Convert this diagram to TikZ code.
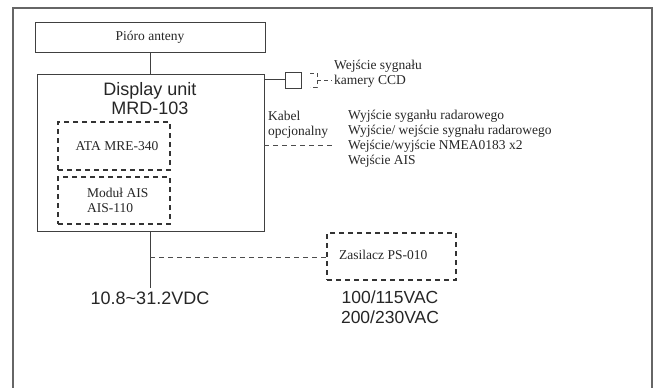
\documentclass[tikz,border=0pt]{standalone}
\usepackage{fontspec}
\setmainfont{Liberation Serif}
\newfontfamily\arialf{Liberation Sans}
\begin{document}
\begin{tikzpicture}[x=1pt,y=-1pt,
  line/.style={draw=black!75,line width=0.9pt},
  solidbox/.style={line,rectangle,inner sep=0pt},
  dbox/.style={draw=black!80,line width=1.1pt,dash pattern=on 5pt off 4pt,rectangle,inner sep=0pt},
  dline/.style={draw=black!70,line width=0.8pt,dash pattern=on 5pt off 4pt},
  serif/.style={font=\fontsize{13.5}{15}\selectfont,inner sep=0pt,text=black!85},
  sans/.style={font=\arialf\fontsize{18}{20}\selectfont,inner sep=0pt,text=black!85}]
\useasboundingbox (0,0) rectangle (657,388);
% outer frame (no bottom edge)
\draw[draw=black!60,line width=1.2pt] (13,390) -- (13,8) -- (652,8) -- (652,390);

\node[solidbox,minimum width=230pt,minimum height=30pt] (pioro) at (150,37) {};
\node[serif] (pioroT) at (150,37) {Pióro anteny};

\node[solidbox,minimum width=227pt,minimum height=157pt] (disp) at (150.5,152.5) {};
\node[sans] (dispT1) at (150,91) {Display unit};
\node[sans] (dispT2) at (150,108.5) {MRD-103};

\node[dbox,minimum width=112pt,minimum height=48pt] (ata) at (114,146) {};
\node[serif] (ataT) at (117,146) {ATA MRE-340};

\node[dbox,minimum width=112pt,minimum height=47pt] (ais) at (114,200.5) {};
\node[serif,align=left,anchor=west] (aisT) at (87,200) {Moduł AIS\\AIS-110};

\draw[line] (pioro.south -| 150,0) -- (disp.north -| 150,0);

% camera connector
\node[solidbox,minimum width=16pt,minimum height=16pt] (plug) at (293,80) {};
\draw[line] (disp.east |- 0,79) -- (plug.west |- 0,79);
\coordinate (sockA) at (310,73);
\coordinate (sockB) at (317,73);
\coordinate (sockC) at (317,87);
\coordinate (sockD) at (310,87);
\coordinate (sockM) at (317,80);
\coordinate (sockE) at (332,80);
\draw[draw=black!70,line width=0.8pt,dash pattern=on 4pt off 3pt] (sockA) -- (sockB) -- (sockC) -- (sockD);
\draw[draw=black!70,line width=0.8pt,dash pattern=on 4pt off 3pt] (sockM) -- (sockE);
\node[serif,align=left,anchor=west] (camT) at (334,74) {Wejście sygnału\\kamery CCD};

% optional cable
\node[serif,align=left,anchor=west] (kabT) at (268,125) {Kabel\\opcjonalny};
\coordinate (kabEnd) at (333,145);
\draw[dline] (disp.east |- kabEnd) -- (kabEnd);
\node[serif,align=left,anchor=north west,font=\fontsize{13.5}{15}\selectfont] (list) at (348,110) {Wyjście syganłu radarowego\\Wyjście/ wejście sygnału radarowego\\Wejście/wyjście NMEA0183 x2\\Wejście AIS};

% power
\coordinate (pwrEnd) at (150,288);
\draw[line] (disp.south -| pwrEnd) -- (pwrEnd);
\node[sans] (vdc) at (150,298.5) {10.8\char`~31.2VDC};

\node[dbox,minimum width=129pt,minimum height=47pt] (zas) at (391.5,256.5) {};
\node[serif,anchor=west] (zasT) at (339,255) {Zasilacz PS-010};
\coordinate (split) at (150,257);
\draw[dline] (split) -- (zas.west |- split);
\node[sans,align=center,font=\arialf\fontsize{17.5}{20}\selectfont] (vac) at (390,307) {100/115VAC\\200/230VAC};
\end{tikzpicture}
\end{document}
